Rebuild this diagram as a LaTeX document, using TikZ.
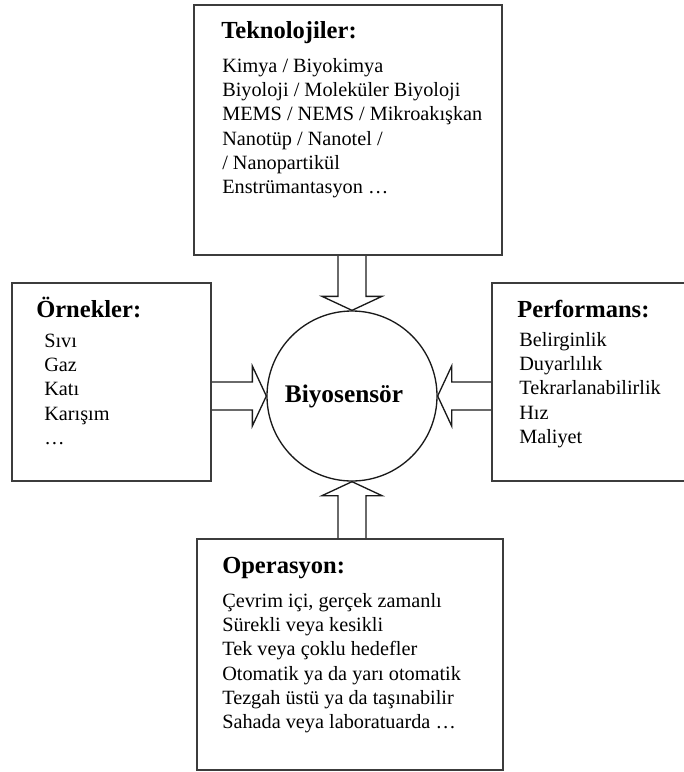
\documentclass[tikz,border=0pt]{standalone}
\usepackage{fontspec}
\setmainfont{Liberation Serif}[
  BoldFont={Liberation Serif Bold},
  ItalicFont={Liberation Serif Italic},
]
\usetikzlibrary{positioning, calc}
\definecolor{boxGray}{HTML}{3C3C3C}
\definecolor{lineBlack}{HTML}{1A1A1A}

\begin{document}
\begin{tikzpicture}[
  x=0.75pt, y=-0.75pt,
  node distance=0pt,
  infobox/.style={
    rectangle, draw=boxGray, line width=1.5pt,
  },
  boxtitle/.style={
    font=\fontsize{18.4}{22}\selectfont\bfseries, inner sep=0pt, anchor=base west,
  },
  item/.style={
    font=\fontsize{15.2}{18}\selectfont, inner sep=0pt,
    text height=12.5pt, text depth=5.35pt,
  },
  sensor/.style={
    circle, draw=lineBlack, line width=1pt, minimum size=127.5pt,
    font=\fontsize{19}{22}\selectfont\bfseries,
  },
  blockarrow/.style={draw=lineBlack, line width=1pt, line join=miter},
]
\useasboundingbox (0,0) rectangle (684,772);

% Boxes and sensor
\node[infobox, minimum width=231pt, minimum height=187.5pt] (tek) at (348,130) {};
\node[infobox, minimum width=149.25pt, minimum height=148.5pt] (ornek) at (111.5,382) {};
\node[infobox, minimum width=150pt, minimum height=148.5pt] (perf) at (592,382) {};
\node[infobox, minimum width=229.5pt, minimum height=173.25pt] (ope) at (350,654.5) {};
\node[sensor] (bio) at (352,396) {\raisebox{-4pt}{Biyosensör}\hspace*{12pt}};

% Teknolojiler
\node[boxtitle] (tek_title) at ($(tek.north west)+(28,34)$) {Teknolojiler:};
\node[item, anchor=base west] (t1) at ($(tek.north west)+(29,68)$) {Kimya / Biyokimya};
\node[item, below=of t1.south west, anchor=north west] (t2) {Biyoloji / Moleküler Biyoloji};
\node[item, below=of t2.south west, anchor=north west] (t3) {MEMS / NEMS / Mikroakışkan};
\node[item, below=of t3.south west, anchor=north west] (t4) {Nanotüp / Nanotel /};
\node[item, below=of t4.south west, anchor=north west] (t5) {/ Nanopartikül};
\node[item, below=of t5.south west, anchor=north west] (t6) {Enstrümantasyon …};

% Ornekler
\node[boxtitle] (ornek_title) at ($(ornek.north west)+(25,35)$) {Örnekler:};
\node[item, anchor=base west] (o1) at ($(ornek.north west)+(33,65)$) {Sıvı};
\node[item, below=of o1.south west, anchor=north west] (o2) {Gaz};
\node[item, below=of o2.south west, anchor=north west] (o3) {Katı};
\node[item, below=of o3.south west, anchor=north west] (o4) {Karışım};
\node[item, below=of o4.south west, anchor=north west] (o5) {…};

% Performans
\node[boxtitle] (perf_title) at ($(perf.north west)+(26,35)$) {Performans:};
\node[item, anchor=base west] (p1) at ($(perf.north west)+(28,64)$) {Belirginlik};
\node[item, below=of p1.south west, anchor=north west] (p2) {Duyarlılık};
\node[item, below=of p2.south west, anchor=north west] (p3) {Tekrarlanabilirlik};
\node[item, below=of p3.south west, anchor=north west] (p4) {Hız};
\node[item, below=of p4.south west, anchor=north west] (p5) {Maliyet};

% Operasyon
\node[boxtitle] (ope_title) at ($(ope.north west)+(26,35)$) {Operasyon:};
\node[item, anchor=base west] (op1) at ($(ope.north west)+(26,69)$) {Çevrim içi, gerçek zamanlı};
\node[item, below=of op1.south west, anchor=north west] (op2) {Sürekli veya kesikli};
\node[item, below=of op2.south west, anchor=north west] (op3) {Tek veya çoklu hedefler};
\node[item, below=of op3.south west, anchor=north west] (op4) {Otomatik ya da yarı otomatik};
\node[item, below=of op4.south west, anchor=north west] (op5) {Tezgah üstü ya da taşınabilir};
\node[item, below=of op5.south west, anchor=north west] (op6) {Sahada veya laboratuarda …};

% Block arrows into the sensor
\draw[blockarrow] ($(bio.north |- tek.south)+(-14,0)$) -- ($(bio.north)+(-14,-14)$)
  -- ($(bio.north)+(-30,-14)$) -- (bio.north) -- ($(bio.north)+(30,-14)$)
  -- ($(bio.north)+(14,-14)$) -- ($(bio.north |- tek.south)+(14,0)$);
\draw[blockarrow] ($(bio.south |- ope.north)+(-14,0)$) -- ($(bio.south)+(-14,14)$)
  -- ($(bio.south)+(-30,14)$) -- (bio.south) -- ($(bio.south)+(30,14)$)
  -- ($(bio.south)+(14,14)$) -- ($(bio.south |- ope.north)+(14,0)$);
\draw[blockarrow] ($(ornek.east |- bio.west)+(0,-14)$) -- ($(bio.west)+(-14,-14)$)
  -- ($(bio.west)+(-14,-30)$) -- (bio.west) -- ($(bio.west)+(-14,30)$)
  -- ($(bio.west)+(-14,14)$) -- ($(ornek.east |- bio.west)+(0,14)$);
\draw[blockarrow] ($(perf.west |- bio.east)+(0,-14)$) -- ($(bio.east)+(14,-14)$)
  -- ($(bio.east)+(14,-30)$) -- (bio.east) -- ($(bio.east)+(14,30)$)
  -- ($(bio.east)+(14,14)$) -- ($(perf.west |- bio.east)+(0,14)$);

\end{tikzpicture}
\end{document}
